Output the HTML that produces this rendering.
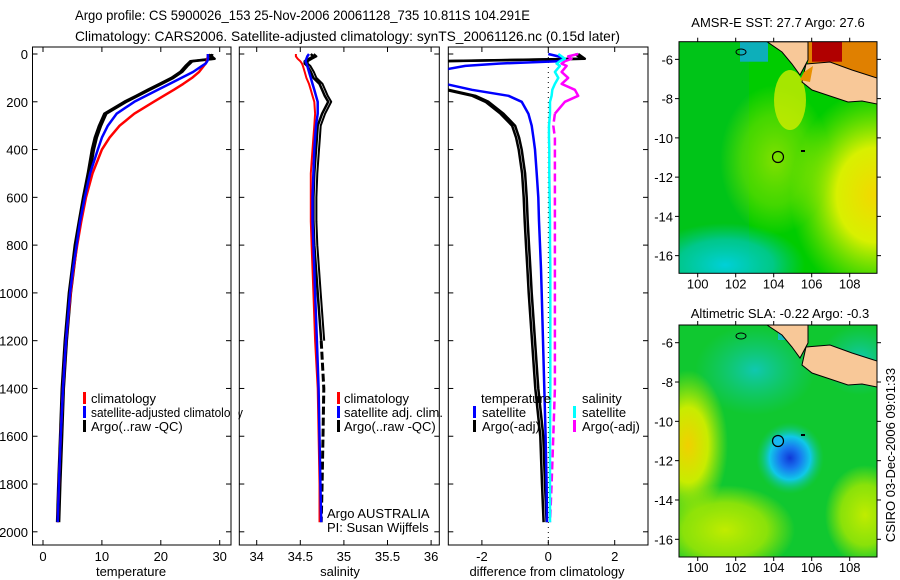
<!DOCTYPE html>
<html><head><meta charset="utf-8"><style>
html,body{margin:0;padding:0;background:#fff;}
svg{display:block;font-family:"Liberation Sans",sans-serif;}
text{font-size:13px;fill:#000;}
</style></head><body>
<svg id="fig" width="900" height="580" viewBox="0 0 900 580">
<defs>
<clipPath id="c1"><rect x="32.5" y="47" width="198.5" height="498"/></clipPath>
<clipPath id="c2"><rect x="239.3" y="47" width="200" height="498"/></clipPath>
<clipPath id="c3"><rect x="448.3" y="47" width="199.7" height="498"/></clipPath>
<clipPath id="m1"><rect x="679" y="41.7" width="198" height="231.6"/></clipPath>
<clipPath id="m2"><rect x="679" y="325" width="198" height="232"/></clipPath>
<radialGradient id="sstYel" cx="0.5" cy="0.5" r="0.5"><stop offset="0" stop-color="#f2d800"/><stop offset="0.45" stop-color="#d8f000"/><stop offset="1" stop-color="#a0e800" stop-opacity="0"/></radialGradient>
<radialGradient id="sstLight" cx="0.5" cy="0.5" r="0.5"><stop offset="0" stop-color="#80e000"/><stop offset="0.6" stop-color="#60dc00" stop-opacity="0.7"/><stop offset="1" stop-color="#60dc00" stop-opacity="0"/></radialGradient>
<radialGradient id="sstCyan" cx="0.5" cy="0.5" r="0.5"><stop offset="0" stop-color="#00d0d8"/><stop offset="0.6" stop-color="#00c8a8" stop-opacity="0.8"/><stop offset="1" stop-color="#00c890" stop-opacity="0"/></radialGradient>
<radialGradient id="slaBlue" cx="0.5" cy="0.5" r="0.5"><stop offset="0" stop-color="#1038d8"/><stop offset="0.3" stop-color="#1878f0"/><stop offset="0.6" stop-color="#10c8e8"/><stop offset="1" stop-color="#10c870" stop-opacity="0"/></radialGradient>
<radialGradient id="slaYel" cx="0.5" cy="0.5" r="0.5"><stop offset="0" stop-color="#f0d000"/><stop offset="0.5" stop-color="#c8ec00"/><stop offset="1" stop-color="#b0e800" stop-opacity="0"/></radialGradient>
<radialGradient id="slaYel2" cx="0.5" cy="0.5" r="0.5"><stop offset="0" stop-color="#c0ec00"/><stop offset="0.6" stop-color="#a8e800" stop-opacity="0.8"/><stop offset="1" stop-color="#a8e800" stop-opacity="0"/></radialGradient>
<radialGradient id="slaTeal" cx="0.5" cy="0.5" r="0.5"><stop offset="0" stop-color="#10c8b0"/><stop offset="1" stop-color="#10c890" stop-opacity="0"/></radialGradient>
</defs>

<text x="75" y="20" textLength="455" lengthAdjust="spacingAndGlyphs" style="font-size:14px">Argo profile: CS 5900026_153 25-Nov-2006 20061128_735 10.811S 104.291E</text>
<text x="75" y="41" textLength="545" lengthAdjust="spacingAndGlyphs" style="font-size:14px">Climatology: CARS2006. Satellite-adjusted climatology: synTS_20061126.nc (0.15d later)</text>

<g id="axes"></g>
<g id="series"></g>

<g>
<rect x="83" y="392" width="3" height="12" fill="#f00"/><text x="91" y="403">climatology</text>
<rect x="83" y="406" width="3" height="12" fill="#00f"/><text x="91" y="417" textLength="152" lengthAdjust="spacingAndGlyphs">satellite-adjusted climatology</text>
<rect x="83" y="420" width="3" height="12" fill="#000"/><text x="91" y="431">Argo(..raw -QC)</text>
</g>
<rect x="231.5" y="390" width="7" height="30" fill="#fff"/>
<g>
<rect x="337" y="392" width="3" height="12" fill="#f00"/><text x="344" y="403">climatology</text>
<rect x="337" y="406" width="3" height="12" fill="#00f"/><text x="344" y="417">satellite adj. clim.</text>
<rect x="337" y="420" width="3" height="12" fill="#000"/><text x="344" y="431">Argo(..raw -QC)</text>
<text x="327" y="518">Argo AUSTRALIA</text>
<text x="327" y="532">PI: Susan Wijffels</text>
</g>
<g>
<text x="481" y="403">temperature</text>
<rect x="473" y="406" width="3" height="12" fill="#00f"/><text x="482" y="417">satellite</text>
<rect x="473" y="420" width="3" height="12" fill="#000"/><text x="482" y="431">Argo(-adj)</text>
<text x="582" y="403">salinity</text>
<rect x="573" y="406" width="3" height="12" fill="#0ff"/><text x="582" y="417">satellite</text>
<rect x="573" y="420" width="3" height="12" fill="#f0f"/><text x="582" y="431">Argo(-adj)</text>
</g>

<text x="778" y="27" text-anchor="middle">AMSR-E SST: 27.7 Argo: 27.6</text>
<g clip-path="url(#m1)">
<rect x="679" y="41.7" width="198" height="232" fill="#00cc00"/>
<rect x="679" y="41.7" width="70" height="232" fill="#00bb30" opacity="0.5"/>
<ellipse cx="725" cy="265" rx="80" ry="42" fill="url(#sstCyan)"/>
<ellipse cx="775" cy="160" rx="55" ry="75" fill="url(#sstLight)"/>
<ellipse cx="875" cy="195" rx="85" ry="105" fill="url(#sstYel)"/>
<ellipse cx="790" cy="100" rx="16" ry="30" fill="#d0ec00" opacity="0.8"/>
<rect x="808" y="41.7" width="70" height="40" fill="#e08000"/>
<rect x="812" y="41.7" width="30" height="20" fill="#b00000"/>
<rect x="740" y="41.7" width="28" height="20" fill="#10a8e8" opacity="0.8"/>
<polygon points="767,41.7 808,41.7 808,60 800,75 792,64 782,52" fill="#f8c898" stroke="#000" stroke-width="1"/>
<polygon points="806,64 830,62 852,70 877,78 877,104 862,101 848,102 830,96 812,90 802,82" fill="#f8c898" stroke="#000" stroke-width="1"/>
<polygon points="804,72 813,66 810,82 800,80" fill="#e89000"/>
<circle cx="778" cy="157" r="5.5" fill="none" stroke="#000" stroke-width="1.2"/>
<rect x="801" y="150" width="4" height="2" fill="#000"/>
<ellipse cx="741" cy="52" rx="5" ry="3" fill="none" stroke="#000"/>
</g>
<rect x="679" y="41.7" width="198" height="231.6" fill="none" stroke="#000"/>

<text x="780" y="318" text-anchor="middle">Altimetric SLA: -0.22 Argo: -0.3</text>
<g clip-path="url(#m2)">
<rect x="679" y="325" width="198" height="232" fill="#10c830"/>
<ellipse cx="755" cy="370" rx="60" ry="45" fill="url(#slaTeal)"/>
<ellipse cx="860" cy="360" rx="40" ry="35" fill="url(#slaTeal)"/>
<ellipse cx="688" cy="445" rx="40" ry="75" fill="url(#slaYel)"/>
<ellipse cx="725" cy="530" rx="70" ry="45" fill="url(#slaYel2)"/>
<ellipse cx="865" cy="515" rx="40" ry="50" fill="url(#slaYel2)"/>
<ellipse cx="790" cy="458" rx="34" ry="36" fill="url(#slaBlue)"/>
<rect x="778" y="325" width="20" height="15" fill="#18b8f0" opacity="0.7"/>
<polygon points="767,325 808,325 808,343 800,358 792,347 782,335" fill="#f8c898" stroke="#000" stroke-width="1"/>
<polygon points="806,347 830,345 852,353 877,361 877,387 862,384 848,385 830,379 812,373 802,365" fill="#f8c898" stroke="#000" stroke-width="1"/>
<circle cx="778" cy="441" r="5.5" fill="#18b8f0" stroke="#000" stroke-width="1.2"/>
<rect x="801" y="434" width="4" height="2" fill="#000"/>
<ellipse cx="741" cy="336" rx="5" ry="3" fill="none" stroke="#000"/>
</g>
<rect x="679" y="325" width="198" height="232" fill="none" stroke="#000"/>
<text transform="translate(895,455) rotate(-90)" text-anchor="middle">CSIRO 03-Dec-2006 09:01:33</text>
</svg>
<script>
const depth = [0,10,20,30,40,50,75,100,125,150,175,200,250,300,350,400,500,600,700,800,900,1000,1200,1400,1600,1800,1960];
const tempClim = [28.0,28.0,27.9,27.8,27.6,27.3,26.5,25.3,23.8,22.2,20.5,18.8,15.5,13.0,11.3,10.0,8.4,7.3,6.5,5.8,5.2,4.7,3.9,3.4,3.0,2.7,2.5];
const tempSat = [28.0,28.0,28.0,27.9,27.6,27.0,25.5,23.5,21.5,19.5,17.5,15.5,12.5,11.0,10.0,9.3,8.0,7.1,6.3,5.7,5.1,4.6,3.9,3.4,3.0,2.7,2.5];
const tempArgo = [28.4,28.3,28.8,25.0,24.6,24.2,23.3,21.8,19.8,17.8,15.8,13.8,10.4,9.5,8.8,8.3,7.6,6.8,6.1,5.4,4.9,4.4,3.7,3.2,2.9,2.6,2.4];
const salClim = [34.45,34.45,34.47,34.5,34.52,34.53,34.55,34.57,34.6,34.62,34.64,34.66,34.67,34.66,34.65,34.64,34.62,34.62,34.62,34.63,34.64,34.65,34.67,34.70,34.71,34.72,34.72];
const salSat = [34.6,34.58,34.57,34.56,34.57,34.58,34.6,34.62,34.64,34.66,34.68,34.70,34.70,34.68,34.67,34.66,34.65,34.64,34.64,34.65,34.66,34.67,34.69,34.71,34.72,34.73,34.74];
const salArgo = [34.62,34.65,34.6,34.55,34.55,34.58,34.62,34.65,34.72,34.75,34.78,34.82,34.75,34.7,34.69,34.68,34.66,34.65,34.65,34.66,34.68,34.70,34.74,34.77,34.76,34.75,34.74];
const dTempSat = [0.0,0.3,0.5,0.3,-1.5,-2.5,-3.5,-3.5,-3.1,-2.3,-1.2,-0.8,-0.6,-0.5,-0.45,-0.4,-0.35,-0.3,-0.28,-0.25,-0.22,-0.2,-0.16,-0.12,-0.08,-0.05,-0.04];
const dTempArgo = [0.9,1.0,1.1,-3.2,-3.2,-3.4,-3.5,-3.5,-3.4,-3.0,-2.2,-1.8,-1.35,-1.0,-0.88,-0.8,-0.7,-0.65,-0.62,-0.58,-0.54,-0.5,-0.4,-0.3,-0.15,-0.1,-0.05];
const dSalSat = [0.3,0.4,0.5,0.35,0.25,0.35,0.2,0.3,0.2,0.12,0.1,0.05,0.05,0.02,0.02,0.03,0.03,0.04,0.05,0.05,0.06,0.06,0.06,0.06,0.05,0.05,0.05];
const dSalArgo = [0.9,0.6,0.7,0.5,0.4,0.55,0.4,0.6,0.4,0.8,0.9,0.5,0.2,0.15,0.2,0.2,0.2,0.2,0.2,0.2,0.2,0.2,0.2,0.2,0.15,0.1,0.05];
const depthTicks = [0,200,400,600,800,1000,1200,1400,1600,1800,2000];
const tempTicks = [0,10,20,30];
const salTicks = [34,34.5,35,35.5,36];
const diffTicks = [-2,0,2];
const dashStartDepth = 1200;

const yD = d => 54 + d*0.2389;
const xT = v => 43 + v*5.89;
const xS = v => 256.7 + (v-34)*87.2;
const xDf = v => 548.3 + v*33.2;
const NS = 'http://www.w3.org/2000/svg';
const axes = document.getElementById('axes');
const ser = document.getElementById('series');
function mk(tag, attrs, parent){const e=document.createElementNS(NS,tag);for(const k in attrs)e.setAttribute(k,attrs[k]);parent.appendChild(e);return e;}

const panels = [
 {x0:32.5,x1:231,sx:xT,ticks:tempTicks,label:'temperature',lx:131,clip:'c1',name:'temperature'},
 {x0:239.3,x1:439.3,sx:xS,ticks:salTicks,label:'salinity',lx:340,clip:'c2',name:'salinity'},
 {x0:448.3,x1:648,sx:xDf,ticks:diffTicks,label:'difference from climatology',lx:547,clip:'c3',name:'difference'}
];
panels.forEach((p,pi)=>{
  const fr = mk('rect',{x:p.x0,y:47,width:p.x1-p.x0,height:498,fill:'none',stroke:'#000','stroke-width':1},axes);
  
  
  p.ticks.forEach(t=>{
    const x=p.sx(t);
    mk('line',{x1:x,x2:x,y1:545,y2:540,stroke:'#000'},axes);
    mk('line',{x1:x,x2:x,y1:47,y2:52,stroke:'#000'},axes);
    const tx=mk('text',{x:x,y:561,'text-anchor':'middle'},axes);
    tx.textContent=String(t);
    
    
  });
  depthTicks.forEach(d=>{
    mk('line',{x1:p.x0,x2:p.x0+5,y1:yD(d),y2:yD(d),stroke:'#000'},axes);
    mk('line',{x1:p.x1,x2:p.x1-5,y1:yD(d),y2:yD(d),stroke:'#000'},axes);
    if(pi===0){
      const ty=mk('text',{x:28,y:yD(d)+5,'text-anchor':'end'},axes);
      ty.textContent=String(d);
      
      
    }
  });
  const lb=mk('text',{x:p.lx,y:576,'text-anchor':'middle'},axes);
  lb.textContent=p.label;
  
  
});
mk('line',{x1:xDf(0),x2:xDf(0),y1:47,y2:545,stroke:'#000','stroke-dasharray':'1 4'},axes);

function line(vals, sx, color, clip, name, w, dash, off, dmin, dmax){
  const pts = [];
  vals.forEach((v,i)=>{
    const d=depth[i];
    if(dmin!==undefined && (d<dmin || d>dmax)) return;
    pts.push((sx(v)+(off||0)).toFixed(1)+','+yD(d).toFixed(1));
  });
  const pl = mk('polyline',{points:pts.join(' '),fill:'none',stroke:color,'stroke-width':w||2.5,'clip-path':'url(#'+clip+')','stroke-linejoin':'round'},ser);
  if(dash) pl.setAttribute('stroke-dasharray',dash);
  
  
}
line(tempArgo, xT, '#000','c1','temp-argo-raw-line',2.5,null,2);
line(tempArgo, xT, '#000','c1','temp-argo-line');
line(tempClim, xT, '#f00','c1','temp-climatology-line');
line(tempSat, xT, '#00f','c1','temp-satellite-line');
line(salArgo, xS, '#000','c2','sal-argo-raw-line',2,null,3,0,dashStartDepth);
line(salArgo, xS, '#000','c2','sal-argo-line',2.5,null,0,0,dashStartDepth);
line(salArgo, xS, '#000','c2','sal-argo-deep-line',3,'8 3',0,dashStartDepth,5000);
line(salClim, xS, '#f00','c2','sal-climatology-line',2);
line(salSat, xS, '#00f','c2','sal-satellite-line');
line(dTempArgo, xDf, '#000','c3','dtemp-argo-raw-line',2.5,null,-3);
line(dTempArgo, xDf, '#000','c3','dtemp-argo-line');
line(dTempSat, xDf, '#00f','c3','dtemp-satellite-line');
line(dSalArgo, xDf, '#f0f','c3','dsal-argo-line',2.5,null,0,0,250);
line(dSalArgo, xDf, '#f0f','c3','dsal-argo-deep-line',2.5,'8 4',0,250,5000);
line(dSalSat, xDf, '#0ff','c3','dsal-satellite-line');

function mapAxes(top,bot,latTop,latBot,name){
  const xl = v => 697.7 + (v-100)*19;
  const yl = v => top + (latTop - v)*(bot-top)/(latTop-latBot);
  [100,102,104,106,108].forEach(v=>{
    mk('line',{x1:xl(v),x2:xl(v),y1:bot,y2:bot+4,stroke:'#000'},axes);
    mk('line',{x1:xl(v),x2:xl(v),y1:top,y2:top-4,stroke:'#000'},axes);
    const t=mk('text',{x:xl(v),y:bot+15,'text-anchor':'middle'},axes);
    t.textContent=String(v);
    
    
  });
  [-6,-8,-10,-12,-14,-16].forEach(v=>{
    mk('line',{x1:679,x2:675,y1:yl(v),y2:yl(v),stroke:'#000'},axes);
    mk('line',{x1:877,x2:881,y1:yl(v),y2:yl(v),stroke:'#000'},axes);
    const t=mk('text',{x:673,y:yl(v)+5,'text-anchor':'end'},axes);
    t.textContent=String(v);
    
    
  });
}
mapAxes(41.7,273.3,-5.1,-16.9,'sst-map');
mapAxes(325,557,-5.1,-16.9,'sla-map');
</script>
</body></html>
